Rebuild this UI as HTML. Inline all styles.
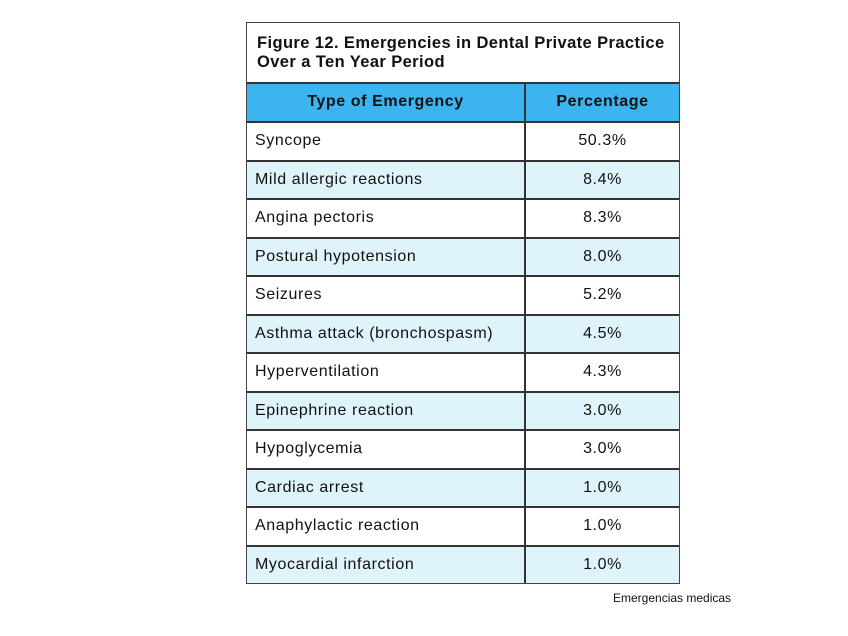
<!DOCTYPE html>
<html><head><style>
body{margin:0;width:848px;height:636px;background:#fff;position:relative;font-family:"Liberation Sans",sans-serif;overflow:hidden}
.box{position:absolute;left:246px;top:22px;width:432px;height:560px;border:1px solid #444;}
.t{position:absolute;left:10px;top:11px;font-weight:bold;font-size:16.5px;letter-spacing:0.4px;line-height:19px;color:#111}
.r{position:absolute;left:0;width:432px;height:38.5px;border-top:2px solid #333;box-sizing:border-box;font-size:16px;letter-spacing:0.6px;color:#111}
.r div{position:absolute;top:0;height:100%;display:flex;align-items:center}
.a{left:8px}
.b{left:277px;width:155px;justify-content:center;border-left:2px solid #333;box-sizing:border-box}
.h{background:#3cb4f0;font-weight:bold}
.h .a{left:0;width:277px;justify-content:center}
.l{background:#dff3fb}
.cap{position:absolute;left:613px;top:591px;font-size:12px;color:#111}
</style></head><body>
<div class="box">
<div class="t">Figure 12. Emergencies in Dental Private Practice<br>Over a Ten Year Period</div>
<div class="r h" style="top:59px"><div class="a">Type of Emergency</div><div class="b">Percentage</div></div>
<div class="r" style="top:98px"><div class="a">Syncope</div><div class="b">50.3%</div></div>
<div class="r l" style="top:136.5px"><div class="a">Mild allergic reactions</div><div class="b">8.4%</div></div>
<div class="r" style="top:175px"><div class="a">Angina pectoris</div><div class="b">8.3%</div></div>
<div class="r l" style="top:213.5px"><div class="a">Postural hypotension</div><div class="b">8.0%</div></div>
<div class="r" style="top:252px"><div class="a">Seizures</div><div class="b">5.2%</div></div>
<div class="r l" style="top:290.5px"><div class="a">Asthma attack (bronchospasm)</div><div class="b">4.5%</div></div>
<div class="r" style="top:329px"><div class="a">Hyperventilation</div><div class="b">4.3%</div></div>
<div class="r l" style="top:367.5px"><div class="a">Epinephrine reaction</div><div class="b">3.0%</div></div>
<div class="r" style="top:406px"><div class="a">Hypoglycemia</div><div class="b">3.0%</div></div>
<div class="r l" style="top:444.5px"><div class="a">Cardiac arrest</div><div class="b">1.0%</div></div>
<div class="r" style="top:483px"><div class="a">Anaphylactic reaction</div><div class="b">1.0%</div></div>
<div class="r l" style="top:521.5px"><div class="a">Myocardial infarction</div><div class="b">1.0%</div></div>
</div>
<div class="cap">Emergencias medicas</div>
</body></html>
